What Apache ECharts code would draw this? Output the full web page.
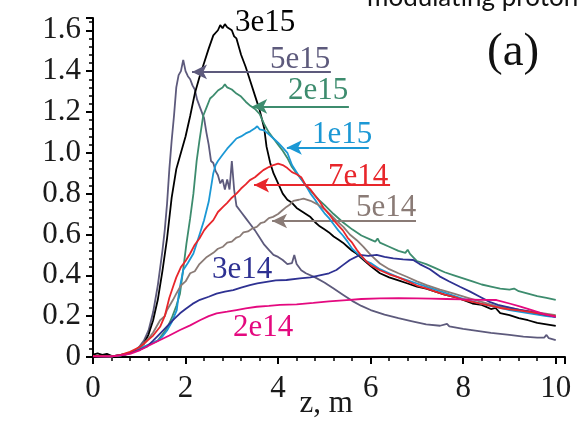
<!DOCTYPE html>
<html>
<head>
<meta charset="utf-8">
<script src="https://cdn.jsdelivr.net/npm/echarts@6/dist/echarts.min.js"></script>
<style>
html,body{margin:0;padding:0;background:#fff;}
#chart{width:578px;height:422px;}
</style>
</head>
<body>
<div id="chart"></div>
<script>
// ---------- data ----------
const xTickLabels = ['0','2','4','6','8','10'];
const yTickLabels = ['0','0.2','0.4','0.6','0.8','1.0','1.2','1.4','1.6'];
const xAxisTitle = 'z, m';
const seriesNames = ['5e15','3e15','2e15','1e15','5e14','3e14','7e14','2e14'];

const d5e15 = [[0,0.005],[0.4,0.003],[0.6,0.008],[0.8,0.02],[0.9,0.03],[1.0,0.05],[1.1,0.08],[1.2,0.13],[1.3,0.22],[1.4,0.35],[1.5,0.52],[1.55,0.62],[1.6,0.75],[1.65,0.92],[1.7,1.06],[1.75,1.18],[1.8,1.32],[1.85,1.38],[1.9,1.40],[1.95,1.455],[2.0,1.40],[2.05,1.375],[2.1,1.36],[2.15,1.33],[2.2,1.31],[2.25,1.26],[2.3,1.23],[2.4,1.17],[2.45,1.10],[2.5,1.04],[2.55,0.96],[2.6,0.95],[2.65,0.91],[2.7,0.89],[2.75,0.85],[2.8,0.87],[2.85,0.82],[2.9,0.87],[2.95,0.82],[3.0,0.96],[3.05,0.82],[3.1,0.74],[3.2,0.71],[3.3,0.68],[3.4,0.65],[3.5,0.62],[3.6,0.585],[3.7,0.55],[3.8,0.525],[3.9,0.50],[4.0,0.49],[4.1,0.475],[4.2,0.455],[4.3,0.46],[4.35,0.50],[4.4,0.455],[4.5,0.425],[4.6,0.41],[4.8,0.39],[5.0,0.365],[5.2,0.335],[5.4,0.305],[5.6,0.275],[5.8,0.25],[6.0,0.23],[6.3,0.207],[6.6,0.19],[6.9,0.175],[7.2,0.16],[7.5,0.153],[7.65,0.162],[7.7,0.15],[8.0,0.138],[8.3,0.128],[8.6,0.118],[9.0,0.108],[9.3,0.10],[9.6,0.095],[9.75,0.095],[9.8,0.108],[9.85,0.092],[10,0.083]];

const d3e15 = [[0,0.012],[0.1,0.018],[0.2,0.01],[0.3,0.015],[0.4,0.006],[0.5,0.005],[0.6,0.01],[0.7,0.012],[0.8,0.02],[0.9,0.03],[1.0,0.045],[1.1,0.065],[1.2,0.11],[1.3,0.18],[1.4,0.28],[1.5,0.42],[1.6,0.58],[1.7,0.78],[1.8,0.92],[1.9,1.0],[2.0,1.08],[2.1,1.18],[2.2,1.29],[2.3,1.37],[2.4,1.44],[2.5,1.51],[2.6,1.575],[2.7,1.60],[2.75,1.625],[2.8,1.61],[2.85,1.63],[2.9,1.615],[3.0,1.60],[3.05,1.57],[3.1,1.56],[3.2,1.48],[3.3,1.42],[3.4,1.35],[3.5,1.28],[3.6,1.21],[3.7,1.12],[3.75,1.03],[3.83,0.95],[3.9,0.90],[4.0,0.85],[4.1,0.80],[4.2,0.77],[4.3,0.755],[4.4,0.73],[4.5,0.715],[4.6,0.70],[4.7,0.685],[4.8,0.66],[4.9,0.64],[5.0,0.625],[5.1,0.61],[5.2,0.59],[5.3,0.575],[5.4,0.56],[5.5,0.54],[5.6,0.52],[5.7,0.505],[5.8,0.485],[5.9,0.465],[6.0,0.445],[6.2,0.41],[6.4,0.39],[6.6,0.375],[6.8,0.36],[7.0,0.345],[7.2,0.335],[7.4,0.32],[7.6,0.305],[7.8,0.295],[8.0,0.28],[8.2,0.262],[8.4,0.255],[8.6,0.235],[8.7,0.24],[8.8,0.215],[9.0,0.205],[9.2,0.19],[9.4,0.18],[9.6,0.167],[9.8,0.16],[10,0.152]];

const d2e15 = [[0,0.005],[0.4,0.003],[0.6,0.008],[0.8,0.02],[1.0,0.04],[1.2,0.06],[1.4,0.08],[1.5,0.11],[1.6,0.14],[1.7,0.19],[1.8,0.25],[1.88,0.31],[1.95,0.43],[2.02,0.556],[2.1,0.68],[2.17,0.80],[2.24,0.96],[2.3,1.06],[2.38,1.18],[2.45,1.22],[2.53,1.266],[2.6,1.28],[2.7,1.305],[2.8,1.32],[2.85,1.335],[2.9,1.32],[3.0,1.31],[3.1,1.29],[3.2,1.275],[3.3,1.25],[3.4,1.23],[3.5,1.215],[3.6,1.19],[3.7,1.14],[3.8,1.10],[3.9,1.07],[4.0,1.04],[4.1,1.01],[4.2,0.975],[4.3,0.93],[4.4,0.90],[4.5,0.87],[4.6,0.84],[4.7,0.815],[4.8,0.79],[4.9,0.765],[5.0,0.745],[5.2,0.70],[5.4,0.66],[5.6,0.625],[5.8,0.595],[6.0,0.575],[6.1,0.565],[6.15,0.58],[6.2,0.56],[6.4,0.54],[6.6,0.52],[6.75,0.51],[6.8,0.525],[6.85,0.505],[7.0,0.47],[7.2,0.455],[7.4,0.435],[7.6,0.415],[7.8,0.40],[8.0,0.385],[8.2,0.37],[8.4,0.355],[8.6,0.345],[8.8,0.335],[9.0,0.33],[9.1,0.335],[9.2,0.322],[9.4,0.31],[9.6,0.298],[9.8,0.29],[10,0.28]];

const d1e15 = [[0,0.005],[0.4,0.003],[0.6,0.008],[0.8,0.02],[1.0,0.04],[1.2,0.06],[1.4,0.08],[1.5,0.1],[1.6,0.13],[1.7,0.17],[1.81,0.23],[1.85,0.30],[1.88,0.344],[1.95,0.426],[2.05,0.46],[2.17,0.507],[2.31,0.605],[2.4,0.67],[2.5,0.76],[2.6,0.90],[2.65,0.94],[2.7,0.96],[2.8,0.99],[2.9,1.02],[3.0,1.045],[3.1,1.07],[3.2,1.08],[3.3,1.095],[3.4,1.105],[3.5,1.12],[3.55,1.13],[3.6,1.115],[3.7,1.11],[3.8,1.09],[3.9,1.07],[4.0,1.05],[4.1,1.025],[4.2,1.0],[4.3,0.94],[4.4,0.905],[4.5,0.87],[4.6,0.84],[4.7,0.80],[4.8,0.77],[4.9,0.735],[5.0,0.705],[5.1,0.68],[5.2,0.65],[5.3,0.62],[5.4,0.595],[5.5,0.565],[5.6,0.53],[5.7,0.51],[5.8,0.49],[5.9,0.47],[6.0,0.46],[6.2,0.43],[6.4,0.41],[6.6,0.39],[6.8,0.375],[7.0,0.36],[7.2,0.345],[7.4,0.33],[7.6,0.315],[7.8,0.30],[8.0,0.285],[8.2,0.272],[8.4,0.26],[8.6,0.25],[8.8,0.24],[9.0,0.23],[9.2,0.222],[9.4,0.215],[9.6,0.207],[9.8,0.20],[10,0.195]];

const d7e14 = [[0,0.005],[0.4,0.003],[0.6,0.01],[0.8,0.025],[1.02,0.05],[1.1,0.065],[1.2,0.085],[1.3,0.105],[1.45,0.148],[1.55,0.2],[1.65,0.29],[1.73,0.344],[1.8,0.39],[1.9,0.44],[2.0,0.47],[2.1,0.507],[2.2,0.55],[2.3,0.58],[2.4,0.62],[2.46,0.637],[2.6,0.67],[2.7,0.71],[2.81,0.735],[2.9,0.755],[3.0,0.78],[3.1,0.80],[3.2,0.825],[3.3,0.845],[3.39,0.866],[3.5,0.88],[3.6,0.90],[3.68,0.915],[3.8,0.93],[3.9,0.94],[4.0,0.947],[4.1,0.94],[4.2,0.925],[4.3,0.905],[4.4,0.895],[4.5,0.88],[4.6,0.84],[4.7,0.82],[4.8,0.79],[4.9,0.76],[5.0,0.725],[5.1,0.70],[5.2,0.67],[5.3,0.645],[5.4,0.62],[5.5,0.585],[5.6,0.56],[5.7,0.525],[5.8,0.495],[5.9,0.47],[6.0,0.45],[6.2,0.425],[6.4,0.405],[6.6,0.39],[6.8,0.37],[7.0,0.35],[7.2,0.336],[7.4,0.32],[7.6,0.305],[7.8,0.295],[8.0,0.28],[8.2,0.27],[8.5,0.255],[8.8,0.24],[9.0,0.233],[9.2,0.228],[9.5,0.218],[9.8,0.208],[10,0.20]];

const d5e14 = [[0,0.005],[0.4,0.003],[0.6,0.01],[0.8,0.02],[1.0,0.045],[1.2,0.09],[1.3,0.12],[1.45,0.18],[1.55,0.2],[1.6,0.23],[1.73,0.28],[1.8,0.31],[1.9,0.35],[2.0,0.37],[2.1,0.41],[2.2,0.42],[2.3,0.455],[2.46,0.49],[2.6,0.51],[2.7,0.53],[2.81,0.54],[2.9,0.56],[3.0,0.565],[3.1,0.585],[3.17,0.59],[3.25,0.61],[3.35,0.615],[3.45,0.63],[3.54,0.637],[3.62,0.655],[3.7,0.66],[3.8,0.68],[3.89,0.686],[4.0,0.70],[4.1,0.72],[4.18,0.735],[4.25,0.745],[4.33,0.765],[4.45,0.77],[4.55,0.776],[4.7,0.765],[4.83,0.75],[5.0,0.725],[5.12,0.70],[5.25,0.67],[5.41,0.637],[5.55,0.60],[5.7,0.572],[5.84,0.54],[6.0,0.50],[6.2,0.458],[6.4,0.43],[6.6,0.41],[6.78,0.393],[7.0,0.37],[7.21,0.352],[7.5,0.33],[7.8,0.31],[8.1,0.29],[8.4,0.27],[8.7,0.25],[9.0,0.24],[9.3,0.228],[9.6,0.218],[10,0.205]];

const d3e14 = [[0,0.005],[0.4,0.003],[0.6,0.01],[0.8,0.02],[1.0,0.035],[1.16,0.05],[1.3,0.08],[1.45,0.115],[1.6,0.15],[1.75,0.185],[1.88,0.214],[2.0,0.235],[2.15,0.26],[2.31,0.28],[2.5,0.295],[2.67,0.31],[2.85,0.32],[3.03,0.328],[3.2,0.34],[3.39,0.352],[3.55,0.36],[3.75,0.368],[3.95,0.375],[4.18,0.377],[4.47,0.385],[4.7,0.39],[4.9,0.40],[5.1,0.41],[5.26,0.426],[5.4,0.45],[5.55,0.475],[5.77,0.50],[5.95,0.495],[6.13,0.50],[6.3,0.49],[6.49,0.483],[6.7,0.478],[6.92,0.475],[7.06,0.455],[7.28,0.43],[7.49,0.395],[7.7,0.37],[7.93,0.344],[8.15,0.32],[8.36,0.295],[8.57,0.27],[8.75,0.255],[8.94,0.246],[9.2,0.232],[9.44,0.222],[9.7,0.21],[10,0.197]];

const d2e14 = [[0,0.003],[0.4,0.003],[0.6,0.008],[0.8,0.015],[1.02,0.034],[1.2,0.055],[1.45,0.083],[1.65,0.105],[1.88,0.132],[2.1,0.155],[2.31,0.18],[2.5,0.2],[2.67,0.214],[2.9,0.222],[3.1,0.23],[3.3,0.238],[3.54,0.246],[3.8,0.25],[4.04,0.255],[4.4,0.258],[4.76,0.265],[5.1,0.272],[5.48,0.279],[5.8,0.284],[6.2,0.287],[6.6,0.288],[7.0,0.287],[7.3,0.286],[7.64,0.284],[8.0,0.282],[8.4,0.28],[8.72,0.279],[9.0,0.262],[9.22,0.248],[9.5,0.228],[9.75,0.21],[10,0.197]];

// ---------- style / annotation config ----------
const seriesData = [d5e15, d3e15, d2e15, d1e15, d5e14, d3e14, d7e14, d2e14];
const colors = ['#5d5a7c','#000000','#3d8c6e','#1b98d5','#8a7b76','#2e3192','#e8262b','#e4097f'];
// annotation text anchor (left edge, vertical centre) in data units
const annText = {
  '3e15':[3.07,1.636], '5e15':[3.825,1.454], '2e15':[4.214,1.303], '1e15':[4.733,1.087],
  '7e14':[5.079,0.881], '5e14':[5.684,0.732], '3e14':[2.572,0.4285], '2e14':[3.026,0.1445]
};
// arrows: [tipX, endX, y] in data units
const annArrow = {
  '5e15':[2.14,5.14,1.396], '2e15':[3.44,5.53,1.227], '1e15':[4.19,5.96,1.026],
  '7e14':[3.48,6.42,0.842], '5e14':[3.87,6.98,0.666]
};

const SERIF = '"Liberation Serif","Times New Roman",serif';
const FS = 31;
const chart = echarts.init(document.getElementById('chart'), null, {renderer:'canvas'});

const series = seriesNames.map((name, i) => {
  const s = {
    name, type:'line', data: seriesData[i], showSymbol:false, symbol:'none',
    lineStyle:{color:colors[i], width:1.8}, itemStyle:{color:colors[i]},
    z: 2 + i, animation:false
  };
  if (annArrow[name]) {
    const a = annArrow[name];
    s.markLine = {
      silent:true, animation:false,
      symbol:['arrow','none'], symbolSize:[11,15],
      label:{show:false},
      lineStyle:{color:colors[i], width:2, type:'solid'},
      data:[[{coord:[a[0],a[2]]},{coord:[a[1],a[2]]}]]
    };
  }
  return s;
});

const labelFromValue = (arr, step) => v => {
  const k = Math.round(v/step);
  if (Math.abs(v - k*step) > 1e-6) return '';
  return arr[k] !== undefined ? arr[k] : '';
};

chart.setOption({
  animation:false,
  backgroundColor:'#ffffff',
  grid:{left:93, right:13, top:18, bottom:65, containLabel:false, outerBoundsMode:'none'},
  xAxis:{
    type:'value', min:0, max:10.2, interval:2,
    axisLine:{show:true, onZero:false, lineStyle:{color:'#000', width:2}},
    axisTick:{show:true, inside:false, length:7, lineStyle:{color:'#000', width:2}},
    minorTick:{show:true, splitNumber:5, length:4, lineStyle:{color:'#000', width:1.5}},
    splitLine:{show:false},
    axisLabel:{fontFamily:SERIF, fontSize:FS, color:'#1a1a1a', margin:16,
      formatter: labelFromValue(xTickLabels, 2)}
  },
  yAxis:{
    type:'value', min:0, max:1.66, interval:0.2,
    axisLine:{show:true, onZero:false, lineStyle:{color:'#000', width:2}},
    axisTick:{show:true, inside:false, length:7, lineStyle:{color:'#000', width:2}},
    minorTick:{show:true, splitNumber:5, length:4, lineStyle:{color:'#000', width:1.5}},
    splitLine:{show:false},
    axisLabel:{fontFamily:SERIF, fontSize:FS, color:'#1a1a1a', margin:12,
      formatter: labelFromValue(yTickLabels, 0.2)}
  },
  series
});

// annotation texts placed through the chart's own coordinate conversion
const g = [];
seriesNames.forEach((name, i) => {
  const p = chart.convertToPixel({gridIndex:0}, annText[name]);
  g.push({type:'text', x:p[0], y:p[1], z:100, silent:true,
    style:{text:name, font:FS + 'px ' + SERIF, fill:colors[i], align:'left', verticalAlign:'middle'}});
});
// x-axis title, centred under the axis
const axMid = chart.convertToPixel({gridIndex:0}, [5.04, 0]);
g.push({type:'text', x:axMid[0], y:axMid[1] + 47, z:100, silent:true,
  style:{text:xAxisTitle, font:FS + 'px ' + SERIF, fill:'#1a1a1a', align:'center', verticalAlign:'middle'}});
g.push({type:'text', x:487, y:53, z:100, silent:true,
  style:{text:'(a)', font:'47px ' + SERIF, fill:'#111', align:'left', verticalAlign:'middle'}});
g.push({type:'text', x:367, y:-2, z:100, silent:true,
  style:{text:'modulating proton', font:'26px Lato, "Open Sans", sans-serif', fill:'#111', align:'left', verticalAlign:'middle'}});
chart.setOption({graphic:g});
</script>
</body>
</html>
